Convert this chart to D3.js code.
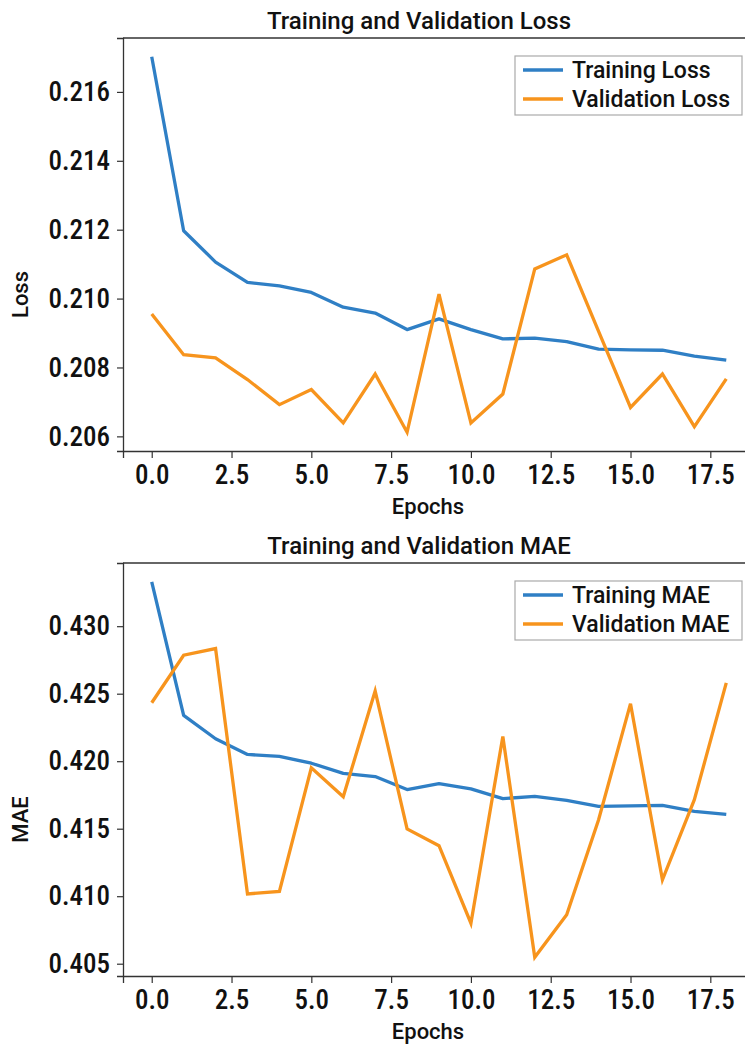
<!DOCTYPE html>
<meta charset="utf-8">
<head>
<script src="https://d3js.org/d3.v7.min.js"></script>
<style>
body { margin: 0; background: #fff; }
svg { display: block; font-family: Roboto, "DejaVu Sans", sans-serif; }
.tick text { font-family: Roboto, "DejaVu Sans", sans-serif; font-size: 27px; font-weight: 500; font-stretch: condensed; fill: #111; }
.title { font-size: 24px; font-weight: 500; fill: #111; }
.label { font-size: 22px; font-weight: 500; fill: #111; }
.legend text { font-size: 23px; font-weight: 500; fill: #111; }
</style>
</head>
<body>
<script>
    // values
    epochs = d3.range(0, 19)

    trainLoss = [0.21702, 0.21197, 0.21106, 0.21047, 0.21037, 0.21018, 0.20975, 0.20958, 0.20910, 0.20941,
                 0.20910, 0.20883, 0.20885, 0.20875, 0.20853, 0.20851, 0.20850, 0.20833, 0.20821]
    valLoss = [0.20955, 0.20837, 0.20828, 0.20765, 0.20692, 0.20736, 0.20639, 0.20781, 0.20612, 0.21013,
               0.20639, 0.20723, 0.21086, 0.21127, 0.20905, 0.20684, 0.20781, 0.20628, 0.20767]

    trainMae = [0.43329, 0.42339, 0.42166, 0.42050, 0.42035, 0.41985, 0.41910, 0.41886, 0.41790, 0.41834,
                0.41795, 0.41723, 0.41740, 0.41710, 0.41666, 0.41669, 0.41673, 0.41629, 0.41606]
    valMae = [0.42433, 0.42785, 0.42834, 0.41017, 0.41035, 0.41951, 0.41736, 0.42520, 0.41498, 0.41374,
              0.40800, 0.42183, 0.40548, 0.40862, 0.41567, 0.42426, 0.41121, 0.41715, 0.42580]

    lossTicks = [0.206, 0.208, 0.210, 0.212, 0.214, 0.216]
    maeTicks = [0.405, 0.410, 0.415, 0.420, 0.425, 0.430]
    epochTicks = [0, 2.5, 5, 7.5, 10, 12.5, 15, 17.5]

    width = 745
    height = 1049
    blue = "#2f7fc5"
    orange = "#f7941d"

    var svg = d3.select("body").append("svg")
      .attr("width", width)
      .attr("height", height)
      .attr("viewBox", [0, 0, width, height])

    // x axis keeps matplotlib's 5% margin, so the right spine falls outside the page
    x = d3.scaleLinear()
      .domain([-0.9, 18.9])
      .range([123, 755])

    function panel(opts) {
      var all = opts.train.concat(opts.val)
      var ext = d3.extent(all)
      var pad = (ext[1] - ext[0]) * 0.05
      var y = d3.scaleLinear()
        .domain([ext[0] - pad, ext[1] + pad])
        .range([opts.bottom, opts.top])

      var g = svg.append("g")

      // x axis
      g.append("g")
        .attr("transform", `translate(0,${opts.bottom})`)
        .call(d3.axisBottom(x).tickValues(epochTicks).tickFormat(d3.format(".1f")).tickSizeOuter(0).tickSize(7).tickPadding(7))
        .call(a => a.select(".domain").attr("stroke", "#333").attr("stroke-width", 1.3))
        .call(a => a.selectAll(".tick line").attr("stroke", "#333").attr("stroke-width", 1.2))

      // y axis
      g.append("g")
        .attr("transform", `translate(123,0)`)
        .call(d3.axisLeft(y).tickValues(opts.ticks).tickFormat(d3.format(".3f")).tickSizeOuter(0).tickSize(6).tickPadding(7))
        .call(a => a.select(".domain").attr("stroke", "#333").attr("stroke-width", 1.3))
        .call(a => a.selectAll(".tick line").attr("stroke", "#333").attr("stroke-width", 1.2))

      // top spine
      g.append("line")
        .attr("x1", 123).attr("x2", 755)
        .attr("y1", opts.top).attr("y2", opts.top)
        .attr("stroke", "#333").attr("stroke-width", 1.3)

      var line = d3.line()
        .x((d, i) => x(epochs[i]))
        .y(d => y(d))

      g.append("path")
        .datum(opts.train)
        .attr("fill", "none")
        .attr("stroke", blue)
        .attr("stroke-width", 3.3)
        .attr("stroke-linejoin", "round")
        .attr("d", line)

      g.append("path")
        .datum(opts.val)
        .attr("fill", "none")
        .attr("stroke", orange)
        .attr("stroke-width", 3.3)
        .attr("stroke-linejoin", "miter")
        .attr("d", line)

      g.append("text")
        .attr("class", "title")
        .attr("x", 419)
        .attr("y", opts.top - 9)
        .attr("text-anchor", "middle")
        .text(opts.title)

      g.append("text")
        .attr("class", "label")
        .attr("x", 428)
        .attr("y", opts.bottom + 63)
        .attr("text-anchor", "middle")
        .text("Epochs")

      // y label sits lower than the axes centre in the reference
      g.append("text")
        .attr("class", "label")
        .attr("transform", `translate(28,${(opts.top + opts.bottom) / 2 + 50}) rotate(-90)`)
        .attr("text-anchor", "middle")
        .text(opts.ylabel)

      // legend
      var lg = g.append("g")
        .attr("class", "legend")
        .attr("transform", `translate(515,${opts.top + 18})`)
      lg.append("rect")
        .attr("width", 227)
        .attr("height", 59)
        .attr("fill", "#fff")
        .attr("stroke", "#aaa")
        .attr("stroke-width", 1.2)
      var items = [[opts.names[0], blue], [opts.names[1], orange]]
      items.forEach((it, i) => {
        lg.append("line")
          .attr("x1", 8).attr("x2", 48)
          .attr("y1", 14 + i * 29).attr("y2", 14 + i * 29)
          .attr("stroke", it[1]).attr("stroke-width", 3.3)
        lg.append("text")
          .attr("x", 57)
          .attr("y", 14 + i * 29)
          .attr("dy", "0.35em")
          .text(it[0])
      })
    }

    panel({top: 38, bottom: 451, train: trainLoss, val: valLoss, ticks: lossTicks,
           title: "Training and Validation Loss", ylabel: "Loss", names: ["Training Loss", "Validation Loss"]})
    panel({top: 563, bottom: 976, train: trainMae, val: valMae, ticks: maeTicks,
           title: "Training and Validation MAE", ylabel: "MAE", names: ["Training MAE", "Validation MAE"]})
</script>
</body>
